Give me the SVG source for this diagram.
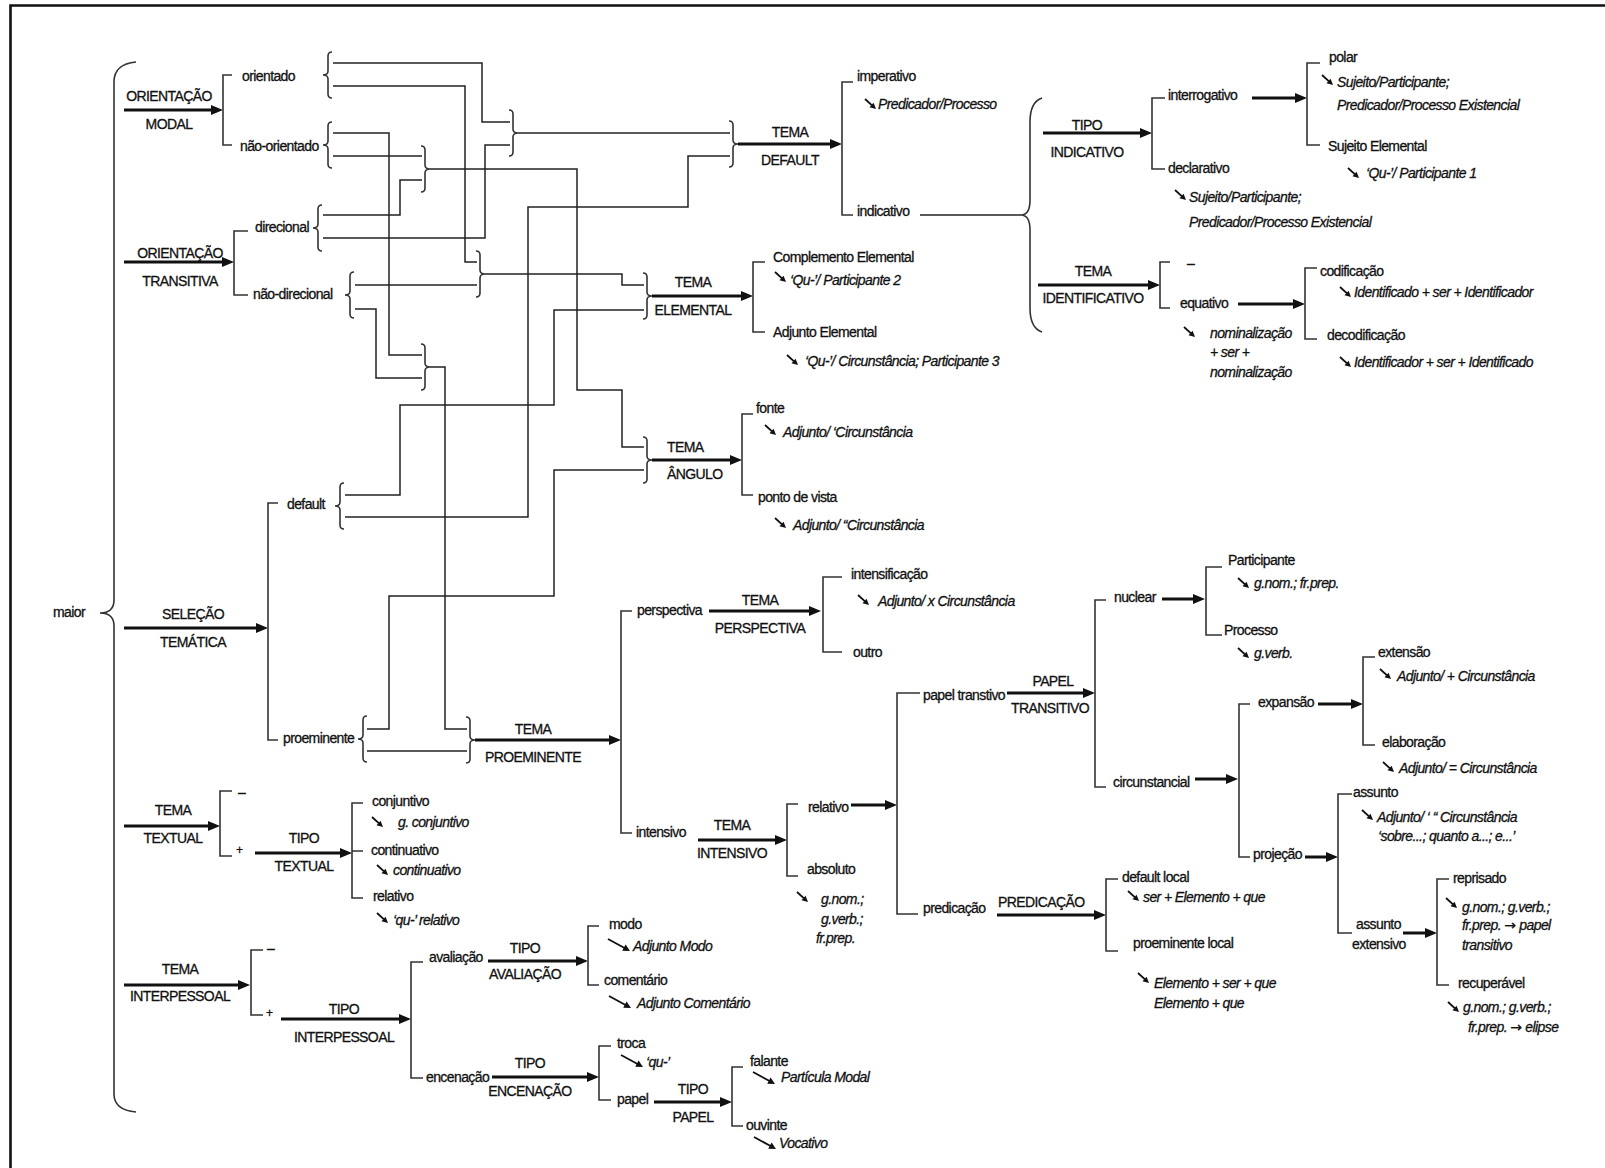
<svg xmlns="http://www.w3.org/2000/svg" xmlns:xlink="http://www.w3.org/1999/xlink" width="1605" height="1168" viewBox="0 0 1605 1168">
  <style>
    text { font-family: "Liberation Sans", Arial, sans-serif; font-size: 14px; letter-spacing: -0.6px; fill: #111; stroke: #111; stroke-width: 0.3px; }
    .i { font-style: italic; }
    .c { text-anchor: middle; }
    .s { font-size: 12px; }
    .arw { font-family: "DejaVu Sans", sans-serif; font-style: normal; letter-spacing: 0; }
    .ln { fill: none; stroke: #222; stroke-width: 1.5; }
    .br { fill: none; stroke: #333; stroke-width: 1.6; }
    .ar { fill: none; stroke: #111; stroke-width: 3; marker-end: url(#ah); }
    .frame { fill: none; stroke: #111; stroke-width: 2.6; }
  </style>
  <defs>
    <marker id="ah" viewBox="0 0 12 10" refX="6" refY="5" markerWidth="12" markerHeight="10" markerUnits="userSpaceOnUse" orient="auto">
      <path d="M0,0 L12,5 L0,10 z" fill="#111"/>
    </marker>
    <!-- small curly braces, 46px tall; origin = top of the vertical stroke -->
    <path id="lb" d="M4,0 Q0,0 0,4 V19 Q0,23 -5,23 Q0,23 0,27 V42 Q0,46 4,46"/>
    <path id="rb" d="M-4,0 Q0,0 0,4 V19 Q0,23 5,23 Q0,23 0,27 V42 Q0,46 -4,46"/>
    <!-- realisation arrows -->
    <g id="sa"><path d="M0,0 L7,6.4" stroke="#111" stroke-width="1.8" fill="none"/><path d="M11,10 L4.5,8.2 L8.6,3.7 z" fill="#111"/></g>
    <g id="la"><path d="M0,0 L17,9.3" stroke="#111" stroke-width="1.8" fill="none"/><path d="M22,12 L14.2,11.7 L17.6,5.6 z" fill="#111"/></g>
  </defs>

  <rect width="1605" height="1168" fill="#fff"/>
  <path class="frame" d="M10.5,1168 V5.5 H1605"/>

  <!-- entry brace -->
  <g id="maior">
    <path class="br" d="M136,62 Q114,64 114,82 V600 Q114,613 100,613 Q114,613 114,626 V1094 Q114,1110 136,1112"/>
    <text x="53" y="617">maior</text>
  </g>

  <!-- connectors between the small braces -->
  <g id="connectors">
    <path class="ln" d="M333,63 H482 V122 H510"/>
    <path class="ln" d="M333,86 H465 V262 H477"/>
    <path class="ln" d="M333,133 H389 V355 H422"/>
    <path class="ln" d="M333,156 H422"/>
    <path class="ln" d="M323,215 H400 V180 H422"/>
    <path class="ln" d="M323,238 H485 V145 H510"/>
    <path class="ln" d="M355,285 H477"/>
    <path class="ln" d="M355,309 H376 V378 H422"/>
    <path class="ln" d="M518,133 H730"/>
    <path class="ln" d="M430,169 H577 V390 H622 V447 H644"/>
    <path class="ln" d="M485,274 H622 V285 H644"/>
    <path class="ln" d="M430,367 H445 V729 H467"/>
    <path class="ln" d="M345,495 H400 V405 H554 V310 H644"/>
    <path class="ln" d="M345,517 H528 V207 H688 V156 H730"/>
    <path class="ln" d="M367,729 H389 V596 H554 V470 H644"/>
    <path class="ln" d="M367,751 H467"/>
    <path class="ln" d="M920,215 H1021"/>
  </g>

  <!-- ORIENTAÇÃO MODAL -->
  <g id="orientacao-modal">
    <text class="c" x="169" y="101">ORIENTAÇÃO</text>
    <path class="ar" d="M124,110 H217"/>
    <text class="c" x="169" y="129">MODAL</text>
    <path class="br" d="M232,75 H223 V145 H232"/>
    <text x="242" y="81">orientado</text>
    <text x="240" y="151">não-orientado</text>
    <use href="#lb" class="br" x="328" y="52"/>
    <use href="#lb" class="br" x="328" y="122"/>
  </g>

  <!-- ORIENTAÇÃO TRANSITIVA -->
  <g id="orientacao-transitiva">
    <text class="c" x="180" y="258">ORIENTAÇÃO</text>
    <path class="ar" d="M124,262 H228"/>
    <text class="c" x="180" y="286">TRANSITIVA</text>
    <path class="br" d="M248,231 H234 V295 H248"/>
    <text x="255" y="232">direcional</text>
    <text x="253" y="299">não-direcional</text>
    <use href="#lb" class="br" x="318" y="205"/>
    <use href="#lb" class="br" x="350" y="272"/>
  </g>

  <!-- merging braces -->
  <g id="merges">
    <use href="#rb" class="br" x="513" y="110"/>
    <use href="#rb" class="br" x="425" y="146"/>
    <use href="#rb" class="br" x="480" y="251"/>
    <use href="#rb" class="br" x="425" y="344"/>
  </g>

  <!-- SELEÇÃO TEMÁTICA -->
  <g id="selecao-tematica">
    <text class="c" x="193" y="619">SELEÇÃO</text>
    <path class="ar" d="M124,628 H262"/>
    <text class="c" x="193" y="647">TEMÁTICA</text>
    <path class="br" d="M278,503 H268 V740 H278"/>
    <text x="287" y="509">default</text>
    <text x="283" y="743">proeminente</text>
    <use href="#lb" class="br" x="340" y="483"/>
    <use href="#lb" class="br" x="363" y="716"/>
  </g>

  <!-- TEMA DEFAULT -->
  <g id="tema-default">
    <use href="#rb" class="br" x="733" y="121"/>
    <text class="c" x="790" y="137">TEMA</text>
    <path class="ar" d="M738,144 H836"/>
    <text class="c" x="790" y="165">DEFAULT</text>
    <path class="br" d="M853,82 H842 V215 H853"/>
    <text x="857" y="81">imperativo</text>
    <use href="#sa" x="865" y="99"/>
    <text class="i" x="878" y="109">Predicador/Processo</text>
    <text x="857" y="216">indicativo</text>
  </g>

  <!-- indicativo -->
  <g id="indicativo">
    <path class="br" d="M1042,98 Q1030,102 1030,122 V200 Q1030,215 1021,215 Q1030,215 1030,230 V308 Q1030,328 1042,332"/>
    <text class="c" x="1087" y="130">TIPO</text>
    <path class="ar" d="M1043,133 H1146"/>
    <text class="c" x="1087" y="157">INDICATIVO</text>
    <path class="br" d="M1165,98 H1152 V169 H1165"/>
    <text x="1168" y="100">interrogativo</text>
    <text x="1168" y="173">declarativo</text>
    <use href="#sa" x="1175" y="190"/>
    <text class="i" x="1189" y="202">Sujeito/Participante;</text>
    <text class="i" x="1189" y="227">Predicador/Processo Existencial</text>
    <path class="ar" d="M1252,98 H1301"/>
    <path class="br" d="M1320,63 H1307 V145 H1320"/>
    <text x="1329" y="62">polar</text>
    <use href="#sa" x="1322" y="75"/>
    <text class="i" x="1337" y="87">Sujeito/Participante;</text>
    <text class="i" x="1337" y="110">Predicador/Processo Existencial</text>
    <text x="1328" y="151">Sujeito Elemental</text>
    <use href="#sa" x="1348" y="168"/>
    <text class="i" x="1366" y="178">‘Qu-’/ Participante 1</text>
  </g>

  <!-- TEMA IDENTIFICATIVO -->
  <g id="tema-identificativo">
    <text class="c" x="1093" y="276">TEMA</text>
    <path class="ar" d="M1038,285 H1154"/>
    <text class="c" x="1093" y="303">IDENTIFICATIVO</text>
    <path class="br" d="M1170,262 H1160 V308 H1170"/>
    <text x="1187" y="268">–</text>
    <text x="1180" y="308">equativo</text>
    <use href="#sa" x="1184" y="327"/>
    <text class="i" x="1210" y="338">nominalização</text>
    <text class="i" x="1210" y="357">+ ser +</text>
    <text class="i" x="1210" y="377">nominalização</text>
    <path class="ar" d="M1238,304 H1299"/>
    <path class="br" d="M1317,268 H1305 V339 H1317"/>
    <text x="1320" y="276">codificação</text>
    <use href="#sa" x="1340" y="287"/>
    <text class="i" x="1354" y="297">Identificado + ser + Identificador</text>
    <text x="1327" y="340">decodificação</text>
    <use href="#sa" x="1340" y="357"/>
    <text class="i" x="1354" y="367">Identificador + ser + Identificado</text>
  </g>

  <!-- TEMA ELEMENTAL -->
  <g id="tema-elemental">
    <use href="#rb" class="br" x="647" y="273"/>
    <text class="c" x="693" y="287">TEMA</text>
    <path class="ar" d="M652,296 H747"/>
    <text class="c" x="693" y="315">ELEMENTAL</text>
    <path class="br" d="M765,262 H753 V332 H765"/>
    <text x="773" y="262">Complemento Elemental</text>
    <use href="#sa" x="775" y="272"/>
    <text class="i" x="790" y="285">‘Qu-’/ Participante 2</text>
    <text x="773" y="337">Adjunto Elemental</text>
    <use href="#sa" x="787" y="355"/>
    <text class="i" x="805" y="366">‘Qu-’/ Circunstância; Participante 3</text>
  </g>

  <!-- TEMA ÂNGULO -->
  <g id="tema-angulo">
    <use href="#rb" class="br" x="647" y="437"/>
    <text x="667" y="452">TEMA</text>
    <path class="ar" d="M652,460 H736"/>
    <text x="667" y="479">ÂNGULO</text>
    <path class="br" d="M753,414 H742 V495 H753"/>
    <text x="756" y="413">fonte</text>
    <use href="#sa" x="765" y="425"/>
    <text class="i" x="783" y="437">Adjunto/ ‘Circunstância</text>
    <text x="758" y="502">ponto de vista</text>
    <use href="#sa" x="775" y="518"/>
    <text class="i" x="793" y="530">Adjunto/ “Circunstância</text>
  </g>

  <!-- TEMA PROEMINENTE -->
  <g id="tema-proeminente">
    <use href="#rb" class="br" x="470" y="717"/>
    <text class="c" x="533" y="734">TEMA</text>
    <path class="ar" d="M475,740 H615"/>
    <text class="c" x="533" y="762">PROEMINENTE</text>
    <path class="br" d="M632,611 H621 V833 H632"/>
    <text x="637" y="615">perspectiva</text>
    <text x="636" y="837">intensivo</text>
  </g>

  <!-- TEMA PERSPECTIVA -->
  <g id="tema-perspectiva">
    <text class="c" x="760" y="605">TEMA</text>
    <path class="ar" d="M709,611 H815"/>
    <text class="c" x="760" y="633">PERSPECTIVA</text>
    <path class="br" d="M842,577 H823 V652 H842"/>
    <text x="851" y="579">intensificação</text>
    <use href="#sa" x="858" y="595"/>
    <text class="i" x="878" y="606">Adjunto/ x Circunstância</text>
    <text x="853" y="657">outro</text>
  </g>

  <!-- TEMA INTENSIVO -->
  <g id="tema-intensivo">
    <text class="c" x="732" y="830">TEMA</text>
    <path class="ar" d="M698,840 H781"/>
    <text class="c" x="732" y="858">INTENSIVO</text>
    <path class="br" d="M798,804 H787 V876 H798"/>
    <text x="808" y="812">relativo</text>
    <path class="ar" d="M851,805 H891"/>
    <text x="807" y="874">absoluto</text>
    <use href="#sa" x="797" y="892"/>
    <text class="i" x="821" y="904">g.nom.;</text>
    <text class="i" x="821" y="924">g.verb.;</text>
    <text class="i" x="816" y="943">fr.prep.</text>
    <path class="br" d="M920,693 H897 V914 H918"/>
    <text x="923" y="700">papel transtivo</text>
    <text x="923" y="913">predicação</text>
  </g>

  <!-- PAPEL TRANSITIVO -->
  <g id="papel-transitivo">
    <text class="c" x="1053" y="686">PAPEL</text>
    <path class="ar" d="M1007,693 H1089"/>
    <text class="c" x="1050" y="713">TRANSITIVO</text>
    <path class="br" d="M1106,600 H1095 V787 H1106"/>
    <text x="1114" y="602">nuclear</text>
    <path class="ar" d="M1162,599 H1199"/>
    <path class="br" d="M1222,567 H1206 V635 H1222"/>
    <text x="1228" y="565">Participante</text>
    <use href="#sa" x="1238" y="578"/>
    <text class="i" x="1254" y="588">g.nom.; fr.prep.</text>
    <text x="1224" y="635">Processo</text>
    <use href="#sa" x="1238" y="648"/>
    <text class="i" x="1254" y="658">g.verb.</text>
    <text x="1113" y="787">circunstancial</text>
    <path class="ar" d="M1195,779 H1232"/>
  </g>

  <!-- circunstancial -->
  <g id="circunstancial">
    <path class="br" d="M1250,704 H1239 V857 H1250"/>
    <text x="1258" y="707">expansão</text>
    <path class="ar" d="M1318,704 H1357"/>
    <path class="br" d="M1375,657 H1363 V745 H1375"/>
    <text x="1378" y="657">extensão</text>
    <use href="#sa" x="1380" y="669"/>
    <text class="i" x="1397" y="681">Adjunto/ + Circunstância</text>
    <text x="1382" y="747">elaboração</text>
    <use href="#sa" x="1383" y="762"/>
    <text class="i" x="1399" y="773">Adjunto/ = Circunstância</text>
    <text x="1253" y="859">projeção</text>
    <path class="ar" d="M1305,857 H1332"/>
    <path class="br" d="M1352,794 H1338 V933 H1352"/>
    <text x="1353" y="797">assunto</text>
    <use href="#sa" x="1362" y="810"/>
    <text class="i" x="1377" y="822">Adjunto/ ‘ “ Circunstância</text>
    <text class="i" x="1378" y="841">‘sobre...; quanto a...; e...’</text>
    <text x="1356" y="929">assunto</text>
    <text x="1352" y="949">extensivo</text>
    <path class="ar" d="M1403,933 H1431"/>
    <path class="br" d="M1449,879 H1437 V985 H1449"/>
    <text x="1453" y="883">reprisado</text>
    <use href="#sa" x="1446" y="898"/>
    <text class="i" x="1462" y="912">g.nom.; g.verb.;</text>
    <text class="i" x="1462" y="930">fr.prep. <tspan class="arw">→</tspan> papel</text>
    <text class="i" x="1462" y="950">transitivo</text>
    <text x="1458" y="988">recuperável</text>
    <use href="#sa" x="1448" y="1002"/>
    <text class="i" x="1463" y="1012">g.nom.; g.verb.;</text>
    <text class="i" x="1468" y="1032">fr.prep. <tspan class="arw">→</tspan> elipse</text>
  </g>

  <!-- PREDICAÇÃO -->
  <g id="predicacao">
    <text x="998" y="907">PREDICAÇÃO</text>
    <path class="ar" d="M997,915 H1100"/>
    <path class="br" d="M1118,879 H1106 V951 H1118"/>
    <text x="1122" y="882">default local</text>
    <use href="#sa" x="1128" y="891"/>
    <text class="i" x="1143" y="902">ser + Elemento + que</text>
    <text x="1133" y="948">proeminente local</text>
    <use href="#sa" x="1138" y="973"/>
    <text class="i" x="1154" y="988">Elemento + ser + que</text>
    <text class="i" x="1154" y="1008">Elemento + que</text>
  </g>

  <!-- TEMA TEXTUAL -->
  <g id="tema-textual">
    <text class="c" x="173" y="815">TEMA</text>
    <path class="ar" d="M124,826 H214"/>
    <text class="c" x="173" y="843">TEXTUAL</text>
    <path class="br" d="M232,791 H220 V856 H232"/>
    <text x="238" y="797">–</text>
    <text class="s" x="236" y="854">+</text>
    <text class="c" x="304" y="843">TIPO</text>
    <path class="ar" d="M255,853 H346"/>
    <text class="c" x="304" y="871">TEXTUAL</text>
    <path class="br" d="M363,803 H352 V898 H363 M352,851 H363"/>
    <text x="372" y="806">conjuntivo</text>
    <use href="#sa" x="372" y="817"/>
    <text class="i" x="398" y="827">g. conjuntivo</text>
    <text x="371" y="855">continuativo</text>
    <use href="#sa" x="377" y="865"/>
    <text class="i" x="393" y="875">continuativo</text>
    <text x="373" y="901">relativo</text>
    <use href="#sa" x="377" y="913"/>
    <text class="i" x="393" y="925">‘qu-’ relativo</text>
  </g>

  <!-- TEMA INTERPESSOAL -->
  <g id="tema-interpessoal">
    <text class="c" x="180" y="974">TEMA</text>
    <path class="ar" d="M124,985 H244"/>
    <text class="c" x="180" y="1001">INTERPESSOAL</text>
    <path class="br" d="M263,950 H251 V1015 H263"/>
    <text x="267" y="953">–</text>
    <text class="s" x="266" y="1017">+</text>
    <text class="c" x="344" y="1014">TIPO</text>
    <path class="ar" d="M281,1019 H405"/>
    <text class="c" x="344" y="1042">INTERPESSOAL</text>
    <path class="br" d="M423,962 H411 V1078 H423"/>
    <text x="429" y="962">avaliação</text>
    <text x="426" y="1082">encenação</text>
  </g>

  <!-- TIPO AVALIAÇÃO -->
  <g id="tipo-avaliacao">
    <text class="c" x="525" y="953">TIPO</text>
    <path class="ar" d="M488,961 H582"/>
    <text class="c" x="525" y="979">AVALIAÇÃO</text>
    <path class="br" d="M599,926 H588 V985 H599"/>
    <text x="609" y="929">modo</text>
    <use href="#la" x="608" y="939"/>
    <text class="i" x="633" y="951">Adjunto Modo</text>
    <text x="604" y="985">comentário</text>
    <use href="#la" x="609" y="996"/>
    <text class="i" x="637" y="1008">Adjunto Comentário</text>
  </g>

  <!-- TIPO ENCENAÇÃO -->
  <g id="tipo-encenacao">
    <text class="c" x="530" y="1068">TIPO</text>
    <path class="ar" d="M492,1077 H593"/>
    <text class="c" x="530" y="1096">ENCENAÇÃO</text>
    <path class="br" d="M611,1046 H599 V1100 H611"/>
    <text x="617" y="1048">troca</text>
    <use href="#la" x="621" y="1055"/>
    <text class="i" x="646" y="1067">‘qu-’</text>
    <text x="617" y="1104">papel</text>
  </g>

  <!-- TIPO PAPEL -->
  <g id="tipo-papel">
    <text class="c" x="693" y="1094">TIPO</text>
    <path class="ar" d="M654,1102 H726"/>
    <text class="c" x="693" y="1122">PAPEL</text>
    <path class="br" d="M743,1067 H732 V1126 H743"/>
    <text x="750" y="1066">falante</text>
    <use href="#la" x="753" y="1072"/>
    <text class="i" x="781" y="1082">Partícula Modal</text>
    <text x="746" y="1130">ouvinte</text>
    <use href="#la" x="754" y="1137"/>
    <text class="i" x="779" y="1148">Vocativo</text>
  </g>
</svg>
